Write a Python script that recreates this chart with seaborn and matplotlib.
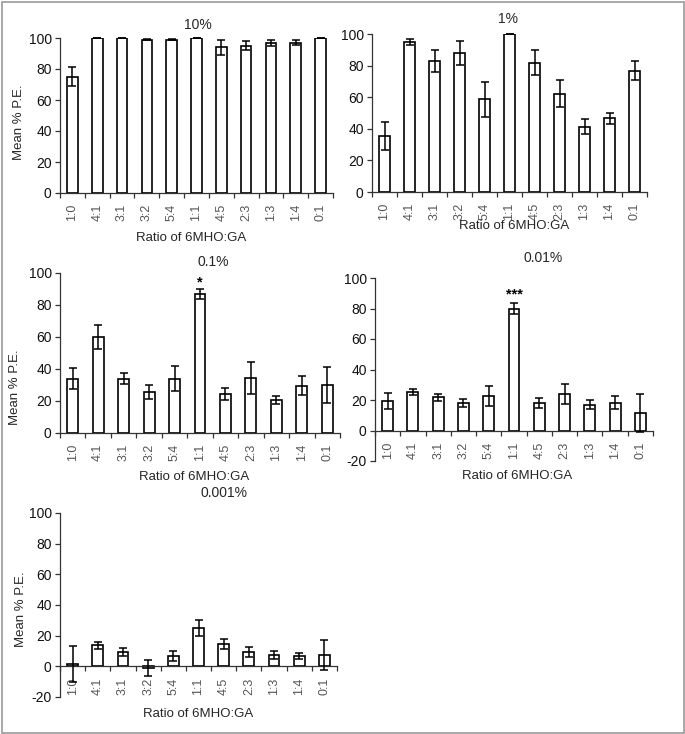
import numpy as np
import pandas as pd
import seaborn as sns
import matplotlib.pyplot as plt
from matplotlib.patches import Rectangle
from matplotlib.ticker import MultipleLocator, FixedLocator

ratios = ["1:0", "4:1", "3:1", "3:2", "5:4", "1:1", "4:5", "2:3", "1:3", "1:4", "0:1"]
titles = ["10%", "1%", "0.1%", "0.01%", "0.001%"]

pe_10 = [75, 100, 100, 99, 99, 100, 94, 95, 97, 97, 100]
se_10 = [6, 0, 0, 0.5, 0.5, 0, 5, 3, 2, 1.5, 0]

pe_1 = [35.6, 95, 82.7, 88, 58.6, 100, 81.9, 62.2, 41.4, 46.8, 76.8]
se_1 = [9, 2, 7, 7.5, 11, 0, 8, 8.5, 5, 3.5, 6]

pe_01 = [34, 59.8, 34, 25.6, 34, 87, 24.6, 34.6, 20.8, 29.6, 30]
se_01 = [6.7, 7.5, 3.5, 4.6, 8, 3, 3.7, 10, 2.5, 6, 11]

pe_001 = [19.4, 25.3, 21.8, 18.3, 22.7, 79.9, 18.3, 24.2, 17, 18.3, 11.6]
se_001 = [5.5, 1.7, 2.4, 2.6, 6.8, 3.7, 3.3, 6.6, 3, 4.4, 12.6]

pe_0001 = [1.7, 13.7, 9.3, -1, 6.7, 25, 14.6, 9.3, 7.4, 6.7, 7.6]
se_0001 = [11.8, 2.2, 2.7, 5.3, 3, 5.4, 3, 3, 2.8, 2, 9.8]

stars_01 = "*"
stars_001 = "***"

xlabel = "Ratio of 6MHO:GA"
ylabel = "Mean % P.E."

sns.set_style("white")
plt.rcParams['font.family'] = ['Liberation Sans', 'DejaVu Sans']
plt.rcParams['axes.unicode_minus'] = False

W, H = 685, 734
fig = plt.figure(figsize=(W / 100, H / 100), dpi=100)

panels = [
    dict(vals=pe_10, errs=se_10, box=(60, 38, 333, 193), ylim=(0, 100),
         tpos=(198, 25), xlpos=(191, 238), ylpos=(19, 122), star=None),
    dict(vals=pe_1, errs=se_1, box=(372, 34, 647, 192), ylim=(0, 100),
         tpos=(508, 19), xlpos=(514, 226), ylpos=None, star=None),
    dict(vals=pe_01, errs=se_01, box=(60, 273, 340, 433), ylim=(0, 100),
         tpos=(213, 262), xlpos=(194, 477), ylpos=(15, 387), star=(stars_01, 94)),
    dict(vals=pe_001, errs=se_001, box=(375, 278, 653, 461), ylim=(-20, 100),
         tpos=(543, 258), xlpos=(517, 476), ylpos=None, star=(stars_001, 89)),
    dict(vals=pe_0001, errs=se_0001, box=(60, 513, 337, 697), ylim=(-20, 100),
         tpos=(224, 493), xlpos=(198, 714), ylpos=(21, 609), star=None),
]

axcol = '#333333'
for title, p in zip(titles, panels):
    l, t, r, b = p['box']
    ax = fig.add_axes([l / W, 1 - b / H, (r - l) / W, (b - t) / H])
    df = pd.DataFrame({"ratio": ratios, "value": p['vals']})
    sns.barplot(data=df, x="ratio", y="value", order=ratios, color="white",
                edgecolor="black", linewidth=1.2, width=0.43, ax=ax,
                errorbar=None, saturation=1)
    x = np.arange(len(ratios))
    ax.errorbar(x, p['vals'], yerr=p['errs'], fmt='none', ecolor='black',
                elinewidth=1.1, capsize=2.7, capthick=1.1, zorder=5, clip_on=False)
    ax.set_xlim(-0.5, len(ratios) - 0.5)
    ax.set_ylim(*p['ylim'])
    ax.set_xlabel("")
    ax.set_ylabel("")
    for s in ['top', 'right']:
        ax.spines[s].set_visible(False)
    ax.spines['left'].set_color(axcol)
    ax.spines['bottom'].set_color(axcol)
    ax.spines['left'].set_linewidth(0.9)
    ax.spines['bottom'].set_linewidth(0.9)
    if p['ylim'][0] < 0:
        ax.spines['bottom'].set_position(('data', 0))
    ax.yaxis.set_major_locator(MultipleLocator(20))
    ax.tick_params(axis='y', which='major', direction='out', length=3.5, width=0.9,
                   color=axcol, labelsize=10, labelcolor='#111111', pad=2.5, left=True)
    ax.set_xticks(x)
    ax.set_xticklabels(ratios, rotation=90)
    ax.xaxis.set_minor_locator(FixedLocator(np.arange(-0.5, len(ratios), 1.0)))
    ax.tick_params(axis='x', which='major', length=0, labelsize=9,
                   labelcolor='#555555', pad=8, bottom=True)
    ax.tick_params(axis='x', which='minor', direction='out', length=3.5, width=0.9,
                   color=axcol, bottom=True)
    ax.grid(False)
    if p['star'] is not None:
        ax.text(5, p['star'][1], p['star'][0], ha='center', va='center',
                fontsize=10.5, fontweight='bold', color='black')
    fig.text(p['tpos'][0] / W, 1 - p['tpos'][1] / H, title, ha='center',
             va='center', fontsize=10)
    fig.text(p['xlpos'][0] / W, 1 - p['xlpos'][1] / H, xlabel, ha='center',
             va='center', fontsize=9.5)
    if p['ylpos'] is not None:
        fig.text(p['ylpos'][0] / W, 1 - p['ylpos'][1] / H, ylabel, ha='center',
                 va='center', fontsize=9.5, rotation=90)

fig.patches.append(Rectangle((1.5 / W, 1.5 / H), (W - 3) / W, (H - 3) / H,
                             transform=fig.transFigure, fill=False,
                             edgecolor='#999999', linewidth=1.2))

fig.savefig("out.png", dpi=100)
